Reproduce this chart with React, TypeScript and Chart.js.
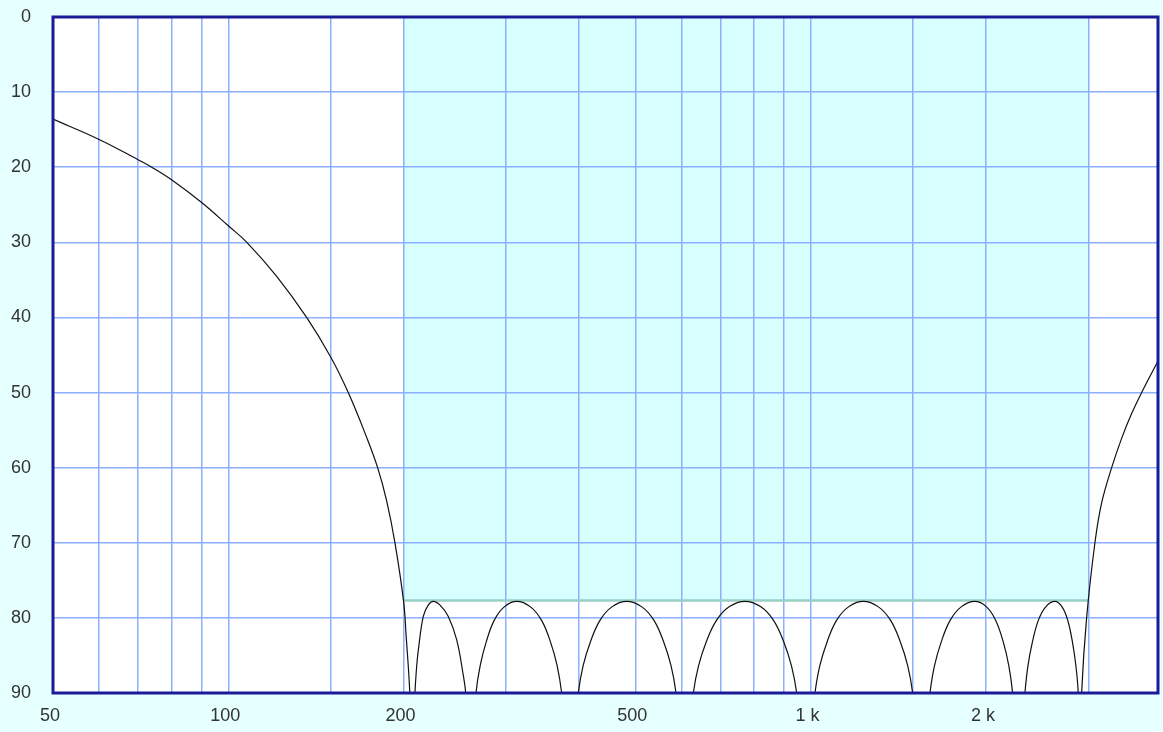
import React, { useEffect, useRef } from "react";
import { Chart, registerables } from "chart.js";

Chart.register(...registerables);

// Frequency response: frequency (Hz) and attenuation (dB).
// Values of 100 dB mark the transmission zeros, which lie below the plotted range.
const freqHz = [
  50, 60, 70, 73.9, 80, 90, 100, 107.6, 121, 136.3, 150, 160.7, 172.5, 180.5, 187, 193.3, 200, 202, 205,
  207,
  209.2, 210.6, 212.0, 216.2, 220.5, 224.9, 231.0, 238.7, 246.7, 253.2, 255.7,
  260,
  266.3, 270.7, 277.3, 286.3, 298.1, 312.8, 329.9, 345.0, 357.5, 367.1, 373.7,
  386.2,
  399.1, 406.7, 418.6, 435.0, 456.3, 483.3, 512.4, 538.0, 559.4, 576.0, 587.3,
  607.8,
  628.9, 642.0, 661.8, 689.6, 725.6, 771.4, 820.2, 863.1, 899.4, 927.2, 946.5,
  981.3,
  1017.4, 1036.9, 1067.3, 1108.6, 1163.0, 1231.6, 1305.8, 1371.4, 1426.1, 1468.4, 1497.2,
  1549.3,
  1603.2, 1632.0, 1676.3, 1737.1, 1815.7, 1915.4, 2002.7, 2078.4, 2142.1, 2189.9, 2223.0,
  2277.7,
  2333.9, 2361.8, 2404.2, 2461.8, 2535.9, 2627.5, 2701.3, 2764.0, 2815.9, 2855.2, 2881.3,
  2900.6,
  2920.3, 2978.6, 3078.1, 3160.8, 3288.6, 3421, 3559, 3703, 3950,
];
const attenDb = [
  13.6, 16.3, 19.0, 20.0, 21.7, 24.7, 27.8, 30.0, 34.5, 40.0, 45.3, 50.0, 55.8, 60.0, 64.4, 70.0, 77.8, 82.3, 90,
  100,
  90, 86.5, 84.3, 79.8, 78.3, 77.8, 78.3, 79.8, 82.9, 87.6, 90,
  100,
  90, 86.4, 83.2, 80.3, 78.5, 77.8, 78.5, 80.3, 83.2, 86.4, 90,
  100,
  90, 86.4, 83.2, 80.3, 78.5, 77.8, 78.5, 80.3, 83.2, 86.4, 90,
  100,
  90, 86.4, 83.2, 80.3, 78.5, 77.8, 78.5, 80.3, 83.2, 86.4, 90,
  100,
  90, 86.4, 83.2, 80.3, 78.5, 77.8, 78.5, 80.3, 83.2, 86.4, 90,
  100,
  90, 86.4, 83.2, 80.3, 78.5, 77.8, 78.5, 80.3, 83.2, 86.4, 90,
  100,
  90, 86.4, 83.2, 80.3, 78.5, 77.8, 78.5, 80.3, 83.2, 86.4, 90,
  100,
  90, 80, 70, 64.7, 60, 56.1, 52.8, 50, 45.8,
];

// Stopband requirement box
const bandFreqs = [200, 3000];
const bandDb = [0, 77.7];

// Axes
const freqRange = [50, 3950];
const dbRange = [0, 90];
const freqGrid = [50, 60, 70, 80, 90, 100, 150, 200, 300, 400, 500, 600, 700, 800, 900, 1000, 1500, 2000, 3000];
const freqLabelValues = [50, 100, 200, 500, 1000, 2000];
const freqLabelTexts = ["50", "100", "200", "500", "1 k", "2 k"];

const PAGE_BG = "#e6ffff";
const BAND_FILL = "#d8ffff";
const BAND_EDGE = "#97cfc4";
const GRID = "#8cb0ff";
const FRAME = "#1b1b99";

const backdrop = {
  id: "backdrop",
  beforeDraw(chart: any) {
    const { ctx, chartArea, scales } = chart;
    ctx.save();
    ctx.fillStyle = PAGE_BG;
    ctx.fillRect(0, 0, chart.width, chart.height);
    ctx.fillStyle = "#ffffff";
    ctx.fillRect(chartArea.left, chartArea.top, chartArea.right - chartArea.left, chartArea.bottom - chartArea.top);
    const x0 = scales.x.getPixelForValue(bandFreqs[0]);
    const x1 = scales.x.getPixelForValue(bandFreqs[1]);
    const y0 = scales.y.getPixelForValue(bandDb[0]);
    const y1 = scales.y.getPixelForValue(bandDb[1]);
    ctx.fillStyle = BAND_FILL;
    ctx.fillRect(x0, y0, x1 - x0, y1 - y0);
    ctx.restore();
  },
  beforeDatasetsDraw(chart: any) {
    const { ctx, scales } = chart;
    const x0 = scales.x.getPixelForValue(bandFreqs[0]);
    const x1 = scales.x.getPixelForValue(bandFreqs[1]);
    const y1 = scales.y.getPixelForValue(bandDb[1]);
    ctx.save();
    ctx.strokeStyle = BAND_EDGE;
    ctx.lineWidth = 2.5;
    ctx.beginPath();
    ctx.moveTo(x0, y1);
    ctx.lineTo(x1, y1);
    ctx.stroke();
    ctx.restore();
  },
  afterDraw(chart: any) {
    const { ctx, chartArea } = chart;
    ctx.save();
    ctx.strokeStyle = FRAME;
    ctx.lineWidth = 3;
    ctx.strokeRect(chartArea.left, chartArea.top, chartArea.right - chartArea.left, chartArea.bottom - chartArea.top);
    ctx.restore();
  },
};

export default function App() {
  const canvasRef = useRef<HTMLCanvasElement>(null);

  useEffect(() => {
    const canvas = canvasRef.current;
    if (!canvas) return;
    const points = freqHz.map((f, i) => ({ x: f, y: attenDb[i] }));
    const font = { family: "'Liberation Sans', Arial, sans-serif", size: 18 };

    const chart = new Chart(canvas, {
      type: "line",
      data: {
        datasets: [
          {
            data: points,
            borderColor: "#111111",
            borderWidth: 1.2,
            pointRadius: 0,
            fill: false,
            tension: 0.4,
          },
        ],
      },
      options: {
        animation: false,
        responsive: false,
        devicePixelRatio: 1,
        layout: { padding: { top: 17, right: 5, left: 0, bottom: 0 } },
        plugins: { legend: { display: false }, tooltip: { enabled: false } },
        scales: {
          x: {
            type: "logarithmic",
            min: freqRange[0],
            max: freqRange[1],
            border: { display: false },
            grid: { color: GRID, lineWidth: 1.5, drawTicks: false },
            afterBuildTicks: (scale: any) => {
              scale.ticks = freqGrid.map((v) => ({ value: v }));
            },
            afterFit: (scale: any) => {
              scale.height = 39;
              scale.paddingLeft = 0;
              scale.paddingRight = 0;
            },
            ticks: {
              autoSkip: false,
              maxRotation: 0,
              minRotation: 0,
              padding: 12,
              labelOffset: -3,
              color: "#333333",
              font,
              callback: (value: any) => {
                const idx = freqLabelValues.indexOf(Number(value));
                return idx >= 0 ? freqLabelTexts[idx] : "";
              },
            },
          },
          y: {
            type: "linear",
            reverse: true,
            min: dbRange[0],
            max: dbRange[1],
            border: { display: false },
            grid: { color: GRID, lineWidth: 1.5, drawTicks: false },
            afterFit: (scale: any) => {
              scale.width = 53;
              scale.paddingTop = 0;
              scale.paddingBottom = 0;
            },
            ticks: {
              stepSize: 10,
              padding: 22,
              color: "#333333",
              font,
            },
          },
        },
      },
      plugins: [backdrop],
    } as any);

    return () => chart.destroy();
  }, []);

  return (
    <div style={{ position: "fixed", left: 0, top: 0, width: 1163, height: 732, background: PAGE_BG }}>
      <canvas ref={canvasRef} width={1163} height={732} style={{ display: "block" }} />
    </div>
  );
}
